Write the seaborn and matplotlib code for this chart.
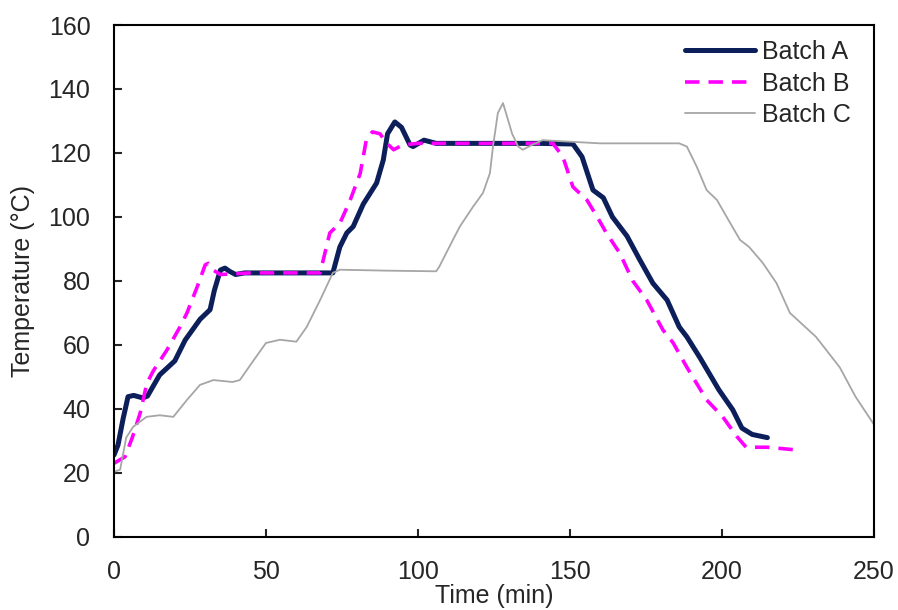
import numpy as np
import pandas as pd
import matplotlib
matplotlib.use("Agg")
import matplotlib.pyplot as plt
import seaborn as sns

# values
time_a = [0, 1.3, 3, 4.6, 6.5, 8, 9.5, 11, 15, 20, 23.4, 28.3, 31.6, 33, 35, 36.5, 38, 40, 43, 50, 60, 72,
          74.3, 76.6, 78.7, 82, 86.4, 88.6, 90, 92.4, 94.6, 97.4, 98.4, 102, 106, 120, 140, 151,
          154, 157.6, 161, 164, 168.8, 173, 177.3, 182, 186, 188.5, 192.8, 199, 203.6, 206.6, 210, 215]
temp_a = [25.6, 28.7, 37, 43.8, 44.2, 43.8, 43.4, 44, 50.6, 55, 61.5, 68, 71, 77, 83.4, 84, 83, 82, 82.5, 82.5, 82.5, 82.5,
          90.6, 95, 97, 104, 110.6, 117.8, 126, 129.7, 128, 122.5, 122, 124, 123, 123, 123, 122.8,
          118.8, 108.4, 106, 100, 94, 86.6, 79.3, 74, 65.6, 62.5, 56, 46, 39.7, 34, 32, 31]

time_b = [0, 3.6, 6, 8.6, 10.8, 13, 17.4, 21.7, 24, 27.3, 30, 31, 32.6, 35, 45, 55, 67.8,
          71, 74.3, 77.6, 81, 83, 85, 87.5, 89.8, 92, 95, 100, 120, 144.4,
          147.7, 151, 155.6, 159, 162, 166.4, 170.7, 175.3, 180.6, 184, 188.5, 195, 200.3, 205, 208, 215, 224]
temp_b = [23, 25, 31, 38.7, 48, 52, 58.4, 65.6, 70, 78, 85, 85.5, 83.4, 82, 82.5, 82.5, 82.5,
          95, 98, 105, 113.6, 124, 126.6, 126, 123, 121, 122.5, 123, 123, 123,
          118.8, 109.4, 105.3, 100, 95, 88.7, 80, 74, 64.7, 60.6, 53, 42.8, 37.5, 31.3, 28, 28, 27.2]

time_c = [0, 2, 4, 6.3, 10.7, 15, 19.5, 24, 28.3, 32.7, 39, 41.4, 45.8, 50, 54.6, 60, 63.4, 67.8,
          72, 74.3, 90, 106, 107, 111.5, 113.8, 118, 121.4, 123.7, 124.7, 126.3, 128, 131, 133, 134.5,
          137.5, 141, 160, 186, 188.5, 191.8, 195, 198.4, 201.6, 206, 209, 213.5, 218, 222.4, 231,
          238.8, 244, 250]
temp_c = [20.3, 21, 31, 34.4, 37.5, 38, 37.5, 42.8, 47.5, 49, 48.4, 49, 55, 60.6, 61.6, 61, 65.6, 74,
          82.5, 83.5, 83.2, 83, 84.4, 92.8, 97, 103, 107.5, 113.7, 122, 132.5, 135.6, 126, 122, 121,
          122.5, 124, 123, 123, 122, 115.6, 108.4, 105.3, 100, 92.8, 90.6, 85.6, 79.3, 70, 62.5,
          53, 43.8, 35.2]

sns.set_style("white")
plt.rcParams['font.family'] = ['Liberation Sans', 'DejaVu Sans']

fig = plt.figure(figsize=(8.98, 6.1), dpi=100)
ax = fig.add_axes([0.127, 0.12, 0.846, 0.839])

df_a = pd.DataFrame({'time': time_a, 'temp': temp_a})
df_b = pd.DataFrame({'time': time_b, 'temp': temp_b})
df_c = pd.DataFrame({'time': time_c, 'temp': temp_c})

sns.lineplot(data=df_a, x='time', y='temp', ax=ax, color='#0c1f5a', linewidth=3.6,
             label='Batch A', sort=False)
sns.lineplot(data=df_b, x='time', y='temp', ax=ax, color='#ff00ff', linewidth=2.6,
             label='Batch B', sort=False, dashes=False, linestyle=(0, (4, 2.5)))
sns.lineplot(data=df_c, x='time', y='temp', ax=ax, color='#a6a6a6', linewidth=1.3,
             label='Batch C', sort=False)

ax.set_xlim(0, 250)
ax.set_ylim(0, 160)
ax.set_xticks([0, 50, 100, 150, 200, 250])
ax.set_yticks(np.arange(0, 161, 20))
ax.tick_params(direction='in', length=6, width=1.5, labelsize=18, pad=17,
               top=False, right=False, bottom=True, left=True)
for s in ax.spines.values():
    s.set_color('black')
    s.set_linewidth(1.5)

ax.set_xlabel('Time (min)', fontsize=18, labelpad=0)
ax.set_ylabel('Temperature (°C)', fontsize=18, labelpad=10)

leg = ax.legend(loc='upper right', bbox_to_anchor=(0.99, 1.0), frameon=False, fontsize=18,
                handlelength=2.8, handletextpad=0.3, labelspacing=0.3, borderaxespad=0.2)

fig.savefig('out.png', dpi=100)
